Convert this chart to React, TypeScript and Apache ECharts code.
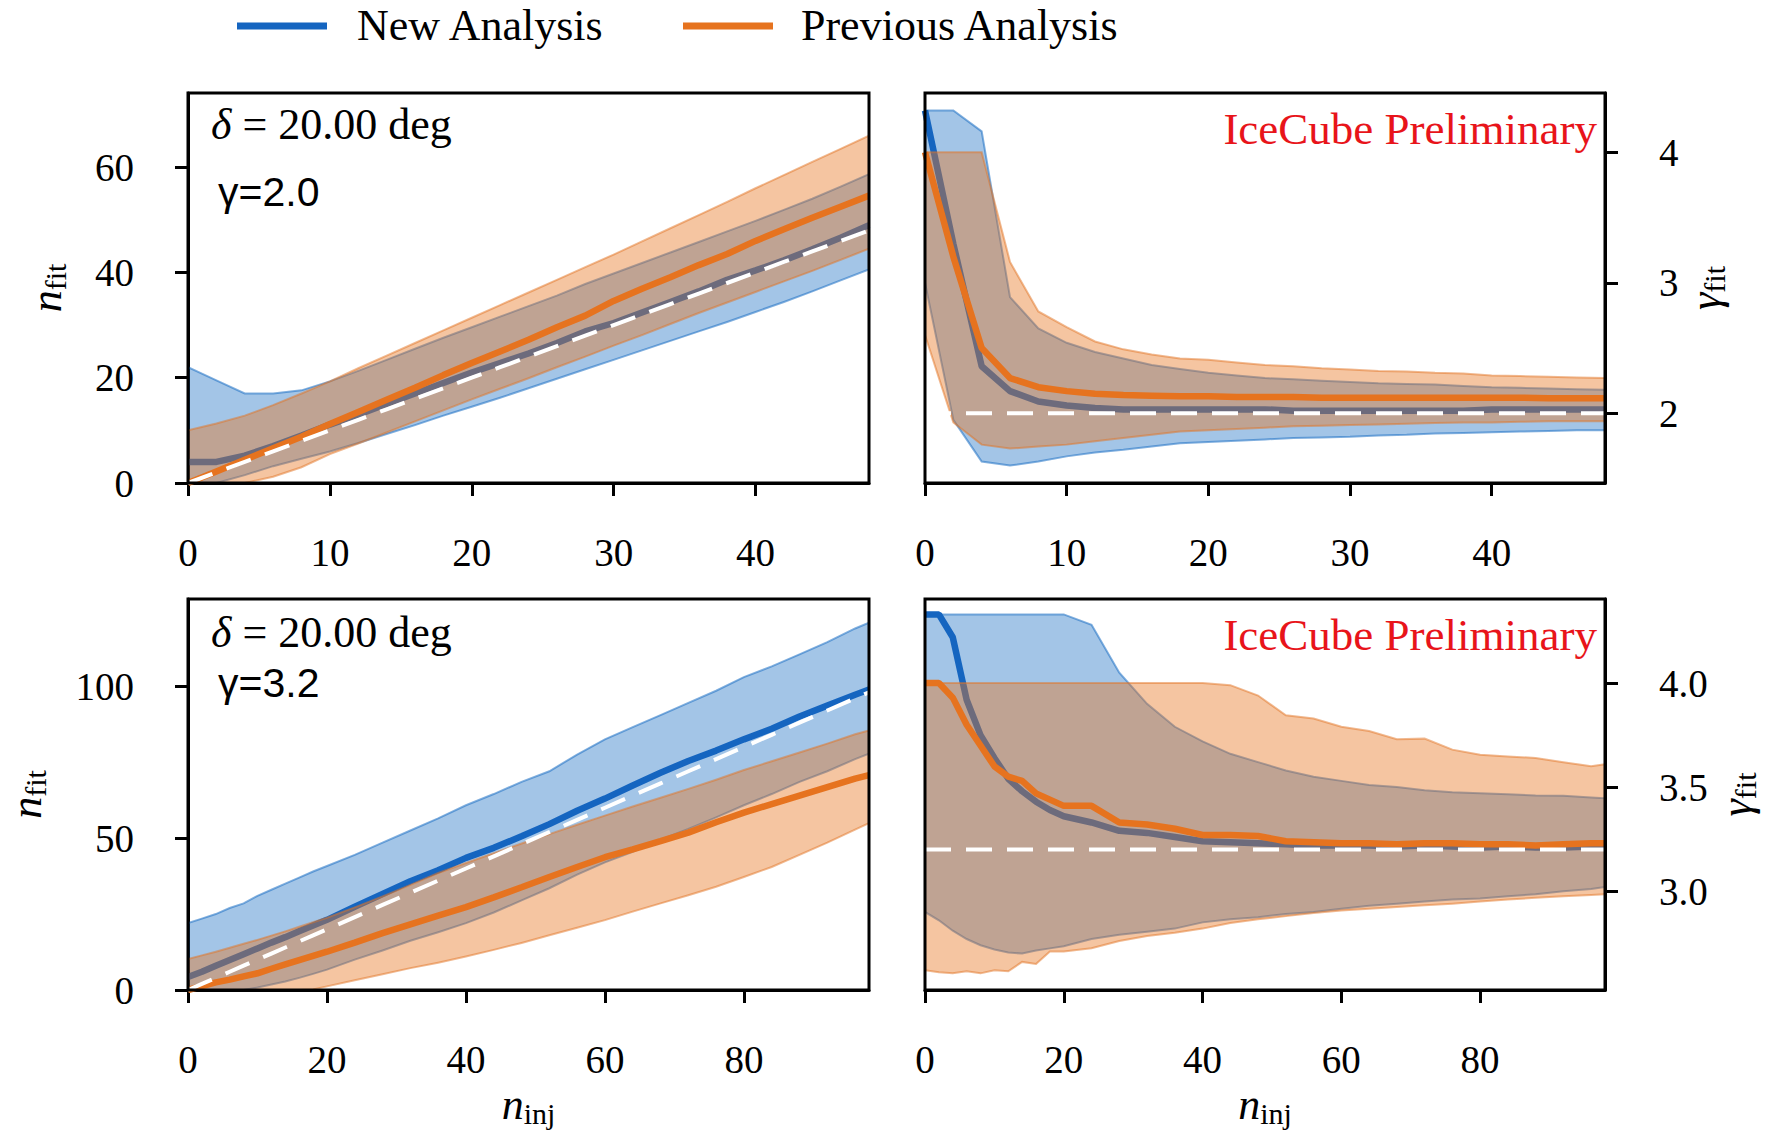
import React, { useEffect, useRef } from 'react';
import * as echarts from 'echarts';

// ---------- data ----------
const xTop = [0, 2, 4, 6, 8, 10, 12, 14, 16, 18, 20, 22, 24, 26, 28, 30, 32, 34, 36, 38, 40, 42, 44, 46, 48];

// top-left: n_fit vs n_inj (gamma = 2.0)
const tlNewMed = [4, 4, 5.2, 7, 9, 11.1, 13, 15, 17, 19, 21, 22.8, 24.6, 26.6, 28.8, 30.4, 32.4, 34.4, 36.4, 38.6, 40.4, 42.3, 44.4, 46.6, 49];
const tlNewLo = [0, 0, 1.5, 3.2, 4.6, 6, 7.6, 9.3, 11, 12.8, 14.5, 16.2, 18, 19.8, 21.6, 23.4, 25.2, 27, 28.8, 30.6, 32.5, 34.4, 36.4, 38.5, 40.6];
const tlNewHi = [22, 19.5, 17, 17, 17.6, 19.3, 21.3, 23.4, 25.5, 27.6, 29.6, 31.6, 33.6, 35.6, 37.8, 39.8, 41.8, 43.8, 45.8, 47.8, 49.8, 51.9, 54, 56.3, 58.7];
const tlPrevMed = [0, 2.2, 4.4, 6.6, 8.8, 11.2, 13.5, 15.8, 18.1, 20.5, 22.8, 25, 27.2, 29.6, 31.8, 34.6, 36.9, 39.1, 41.4, 43.5, 46, 48.2, 50.4, 52.5, 54.6];
const tlPrevLo = [0, 0, 0, 1.2, 3, 5.5, 7.5, 9.6, 11.7, 13.8, 15.9, 17.9, 19.9, 22, 24, 26.1, 28.1, 30.2, 32.3, 34.3, 36.3, 38.3, 40.3, 42.4, 44.5];
const tlPrevHi = [10, 11.3, 12.8, 14.8, 17, 19.3, 21.8, 24.2, 26.6, 29, 31.4, 33.8, 36.2, 38.6, 41, 43.4, 45.9, 48.4, 50.9, 53.4, 56, 58.5, 61, 63.5, 66];

// top-right: gamma_fit vs n_inj (gamma = 2.0)
const trNewMed = [4.32, 3.3, 2.36, 2.17, 2.09, 2.06, 2.04, 2.03, 2.03, 2.03, 2.03, 2.03, 2.03, 2.02, 2.02, 2.02, 2.02, 2.02, 2.02, 2.02, 2.03, 2.03, 2.03, 2.03, 2.03];
const trNewLo = [3.0, 1.95, 1.63, 1.6, 1.63, 1.67, 1.7, 1.72, 1.745, 1.77, 1.78, 1.79, 1.8, 1.81, 1.815, 1.82, 1.83, 1.835, 1.845, 1.85, 1.855, 1.86, 1.865, 1.87, 1.87];
const trNewHi = [4.32, 4.32, 4.16, 2.89, 2.65, 2.54, 2.47, 2.42, 2.37, 2.34, 2.31, 2.29, 2.27, 2.26, 2.25, 2.24, 2.23, 2.225, 2.22, 2.21, 2.2, 2.195, 2.19, 2.185, 2.18];
const trPrevMed = [4.0, 3.2, 2.5, 2.27, 2.2, 2.17, 2.15, 2.14, 2.135, 2.13, 2.13, 2.125, 2.125, 2.125, 2.12, 2.12, 2.12, 2.12, 2.12, 2.12, 2.12, 2.12, 2.115, 2.115, 2.115];
const trPrevLo = [2.6, 1.93, 1.76, 1.73, 1.745, 1.76, 1.785, 1.81, 1.835, 1.86, 1.87, 1.88, 1.89, 1.9, 1.905, 1.91, 1.915, 1.92, 1.925, 1.93, 1.93, 1.935, 1.94, 1.94, 1.94];
const trPrevHi = [4.0, 4.0, 4.0, 3.16, 2.78, 2.66, 2.55, 2.49, 2.45, 2.42, 2.41, 2.39, 2.37, 2.36, 2.345, 2.335, 2.325, 2.32, 2.31, 2.305, 2.29, 2.285, 2.28, 2.275, 2.27];

const xBot = [0, 2, 4, 6, 8, 10, 12, 14, 16, 18, 20, 24, 28, 32, 36, 40, 44, 48, 52, 56, 60, 64, 68, 72, 76, 80, 84, 88, 92, 96, 98];

// bottom-left: n_fit vs n_inj (gamma = 3.2)
const blNewMed = [4.3, 6.0, 8.0, 9.9, 11.8, 13.7, 15.6, 17.4, 19.3, 21.2, 23.1, 27.4, 31.6, 35.8, 39.4, 43.5, 46.8, 50.6, 54.6, 59.0, 63.0, 67.3, 71.5, 75.4, 78.8, 82.5, 86.0, 90.0, 93.6, 97.2, 98.9];
const blNewLo = [0, 0, 0, 0, 0, 0.8, 1.8, 2.8, 4, 5.3, 6.7, 10, 13, 16.2, 19, 22, 25.5, 29.5, 33.5, 38, 42, 45.5, 49.5, 53, 56.8, 60.8, 64.5, 68.5, 72, 76, 77.8];
const blNewHi = [22, 23.5, 25, 27, 28.5, 31, 33, 35, 37, 39, 40.8, 44.5, 48.5, 52.5, 56.5, 60.8, 64.5, 68.5, 72, 77.5, 82.5, 86.5, 90.5, 94.5, 98.5, 103, 106.5, 110.5, 114.5, 119, 120.9];
const blPrevMed = [0, 1.3, 2.5, 3.4, 4.5, 5.5, 7, 8.4, 9.8, 11.2, 12.6, 15.6, 18.7, 21.6, 24.5, 27.3, 30.5, 33.8, 37.2, 40.5, 43.7, 46.3, 49, 51.8, 55.2, 58.4, 61.2, 64, 66.8, 69.6, 70.7];
const blPrevLo = [0, 0, 0, 0, 0, 0, 0, 0, 0, 0.2, 1.2, 3.2, 5.2, 7.2, 9, 11, 13.2, 15.5, 18, 20.5, 23, 25.8, 28.5, 31.2, 34, 37.2, 40.5, 44.5, 48.5, 52.8, 54.9];
const blPrevHi = [10.2, 11.4, 12.6, 13.9, 15.2, 16.5, 17.9, 19.3, 20.8, 22.3, 23.8, 27.2, 30.8, 34.6, 38.5, 41.8, 45, 48.2, 51.3, 54.4, 57.4, 60.4, 63.3, 66.2, 69.2, 72.4, 75.3, 78.2, 81.1, 84.2, 85.4];

// bottom-right: gamma_fit vs n_inj (gamma = 3.2)
const brNewMed = [4.33, 4.33, 4.22, 3.92, 3.75, 3.64, 3.54, 3.48, 3.43, 3.39, 3.36, 3.33, 3.29, 3.28, 3.26, 3.24, 3.235, 3.23, 3.225, 3.22, 3.22, 3.22, 3.215, 3.22, 3.215, 3.21, 3.215, 3.21, 3.21, 3.215, 3.215];
const brNewLo = [2.9, 2.86, 2.81, 2.77, 2.74, 2.72, 2.705, 2.7, 2.715, 2.725, 2.735, 2.77, 2.79, 2.805, 2.82, 2.85, 2.865, 2.875, 2.89, 2.9, 2.915, 2.93, 2.94, 2.95, 2.96, 2.965, 2.976, 2.985, 3.0, 3.01, 3.02];
const brNewHi = [4.33, 4.33, 4.33, 4.33, 4.33, 4.33, 4.33, 4.33, 4.33, 4.33, 4.33, 4.28, 4.05, 3.9, 3.79, 3.72, 3.66, 3.62, 3.58, 3.55, 3.53, 3.51, 3.5, 3.485, 3.475, 3.47, 3.466, 3.46, 3.458, 3.45, 3.446];
const brPrevMed = [4.0, 4.0, 3.93, 3.8, 3.7, 3.6, 3.55, 3.53, 3.47, 3.44, 3.41, 3.41, 3.33, 3.32, 3.3, 3.27, 3.27, 3.265, 3.24, 3.235, 3.23, 3.23, 3.225, 3.23, 3.23, 3.225, 3.225, 3.22, 3.225, 3.23, 3.23];
const brPrevLo = [2.62, 2.61, 2.605, 2.615, 2.605, 2.62, 2.615, 2.66, 2.65, 2.71, 2.71, 2.726, 2.76, 2.785, 2.8, 2.82, 2.847, 2.865, 2.88, 2.895, 2.907, 2.915, 2.924, 2.932, 2.94, 2.95, 2.96, 2.968, 2.976, 2.982, 2.985];
const brPrevHi = [4.0, 4.0, 4.0, 4.0, 4.0, 4.0, 4.0, 4.0, 4.0, 4.0, 4.0, 4.0, 4.0, 4.0, 4.0, 4.0, 3.99, 3.94, 3.845, 3.83, 3.79, 3.77, 3.73, 3.733, 3.68, 3.656, 3.647, 3.64, 3.62, 3.6, 3.61];

const INJ_GAMMA_TOP = 2.0;
const INJ_GAMMA_BOT = 3.2;

// tick labels
const topXTicks = [0, 10, 20, 30, 40];
const botXTicks = [0, 20, 40, 60, 80];
const tlYTicks = [0, 20, 40, 60];
const trYTicks = [2, 3, 4];
const blYTicks = [0, 50, 100];
const brYTicks = [3.0, 3.5, 4.0];

const legendNames = ['New Analysis', 'Previous Analysis'];

// ---------- styles ----------
const SERIF = 'Liberation Serif';
const SANS = 'Liberation Sans';
const NEW_COLOR = '#1565c0';
const PREV_COLOR = '#e6731f';
const NEW_FILL = 'rgba(25,110,195,0.4)';
const PREV_FILL = 'rgba(232,117,30,0.42)';
const NEW_EDGE = 'rgba(25,110,195,0.55)';
const PREV_EDGE = 'rgba(225,115,35,0.5)';

const nameRich = {
  n: { fontFamily: SERIF, fontStyle: 'italic', fontSize: 44, color: '#000' },
  g: { fontFamily: SERIF, fontStyle: 'italic', fontSize: 44, color: '#000' },
  s: { fontFamily: SERIF, fontSize: 30, color: '#000', padding: [18, 0, 0, 0] },
};
const tickRich = { t: { fontFamily: SERIF, fontSize: 39, color: '#000' } };

function bandSeries(gi: number, xs: number[], lo: number[], hi: number[], fill: string, edge: string, z: number) {
  return {
    type: 'custom', xAxisIndex: gi, yAxisIndex: gi, silent: true, clip: true, z,
    data: xs.map((x, i) => [x, lo[i], hi[i]]),
    encode: { x: 0, y: [1, 2] },
    renderItem: (params: any, api: any) => {
      if (params.dataIndex !== 0) return null;
      const low = xs.map((x, i) => api.coord([x, lo[i]]));
      const high = xs.map((x, i) => api.coord([x, hi[i]]));
      const poly = low.concat(high.slice().reverse());
      return {
        type: 'group',
        children: [
          { type: 'polygon', shape: { points: poly }, style: { fill, stroke: 'none' } },
          { type: 'polyline', shape: { points: low }, style: { stroke: edge, lineWidth: 2, fill: 'none' } },
          { type: 'polyline', shape: { points: high }, style: { stroke: edge, lineWidth: 2, fill: 'none' } },
        ],
      };
    },
  };
}

function panelSeries(
  gi: number,
  xs: number[],
  newLo: number[], newMed: number[], newHi: number[],
  prevLo: number[], prevMed: number[], prevHi: number[],
  truth: number[][]
) {
  const pts = (ys: number[]) => xs.map((x, i) => [x, ys[i]]);
  const base: any = {
    type: 'line', xAxisIndex: gi, yAxisIndex: gi, symbol: 'none', showSymbol: false,
    silent: true, animation: false, clip: true,
  };
  return [
    bandSeries(gi, xs, newLo, newHi, NEW_FILL, NEW_EDGE, 2),
    { ...base, z: 3, name: legendNames[0], data: pts(newMed), lineStyle: { color: NEW_COLOR, width: 6.5 } },
    bandSeries(gi, xs, prevLo, prevHi, PREV_FILL, PREV_EDGE, 4),
    { ...base, z: 5, name: legendNames[1], data: pts(prevMed), lineStyle: { color: PREV_COLOR, width: 6.5 } },
    { ...base, z: 6, data: truth, lineStyle: { color: '#ffffff', width: 4, type: [26, 15] } },
  ];
}

const axisLineStyle = { show: true, onZero: false, lineStyle: { color: '#000', width: 3 } };

function mkX(gi: number, max: number, ticks: number[], withName: boolean) {
  return {
    type: 'value', gridIndex: gi, min: 0, max,
    axisLine: axisLineStyle,
    axisTick: { show: true, length: 13, lineStyle: { color: '#000', width: 3 }, customValues: ticks },
    axisLabel: {
      show: true, customValues: ticks, margin: 50, fontFamily: SERIF, fontSize: 39, color: '#000',
      formatter: (v: number) => `{t|${v}}`, rich: tickRich,
    },
    splitLine: { show: false },
    name: withName ? '{n|n}{s|inj}' : '',
    nameLocation: 'middle', nameGap: 90,
    nameTextStyle: { fontFamily: SERIF, rich: nameRich },
  };
}

function mkY(gi: number, min: number, max: number, ticks: number[], pos: string, name: string, nameGap: number, fmt: (v: number) => string) {
  return {
    type: 'value', gridIndex: gi, min, max, position: pos,
    axisLine: axisLineStyle,
    axisTick: { show: true, length: 13, lineStyle: { color: '#000', width: 3 }, customValues: ticks },
    axisLabel: {
      show: true, customValues: ticks, margin: 54, fontFamily: SERIF, fontSize: 39, color: '#000',
      formatter: (v: number) => `{t|${fmt(v)}}`, rich: tickRich,
    },
    splitLine: { show: false },
    name, nameLocation: 'middle', nameRotate: 90, nameGap,
    nameTextStyle: { fontFamily: SERIF, rich: nameRich },
  };
}

function buildOption() {
  const gridBase = { show: true, borderColor: '#000', borderWidth: 3, backgroundColor: 'transparent', z: 10 };
  const grid = [
    { ...gridBase, left: 188, top: 93, width: 681, height: 390 },
    { ...gridBase, left: 925, top: 93, width: 680, height: 390 },
    { ...gridBase, left: 188, top: 599, width: 681, height: 391 },
    { ...gridBase, left: 925, top: 599, width: 680, height: 391 },
  ];
  const xAxis = [
    mkX(0, 48, topXTicks, false),
    mkX(1, 48, topXTicks, false),
    mkX(2, 98, botXTicks, true),
    mkX(3, 98, botXTicks, true),
  ];
  const intFmt = (v: number) => String(Math.round(v));
  const yAxis = [
    mkY(0, 0, 74.1, tlYTicks, 'left', '{n|n}{s|fit}', 118, intFmt),
    mkY(1, 1.466, 4.454, trYTicks, 'right', '{g|γ}{s|fit}', 76, intFmt),
    mkY(2, 0, 128.7, blYTicks, 'left', '{n|n}{s|fit}', 138, intFmt),
    mkY(3, 2.525, 4.404, brYTicks, 'right', '{g|γ}{s|fit}', 107, (v: number) => v.toFixed(1)),
  ];
  const series = [
    ...panelSeries(0, xTop, tlNewLo, tlNewMed, tlNewHi, tlPrevLo, tlPrevMed, tlPrevHi, xTop.map((x) => [x, x])),
    ...panelSeries(1, xTop, trNewLo, trNewMed, trNewHi, trPrevLo, trPrevMed, trPrevHi, xTop.map((x) => [x, INJ_GAMMA_TOP])),
    ...panelSeries(2, xBot, blNewLo, blNewMed, blNewHi, blPrevLo, blPrevMed, blPrevHi, xBot.map((x) => [x, x])),
    ...panelSeries(3, xBot, brNewLo, brNewMed, brNewHi, brPrevLo, brPrevMed, brPrevHi, xBot.map((x) => [x, INJ_GAMMA_BOT])),
  ];

  const serifText = (x: number, y: number, text: string, fill = '#000', align = 'left', size = 44) => ({
    type: 'text', x, y, z: 20,
    style: {
      text, fill, fontFamily: SERIF, fontSize: size, align, verticalAlign: 'middle',
      textAlign: align, textVerticalAlign: 'middle',
      rich: { i: { fontFamily: SERIF, fontStyle: 'italic', fontSize: size, fill } },
    },
  });
  const sansText = (x: number, y: number, text: string) => ({
    type: 'text', x, y, z: 20,
    style: {
      text, fill: '#000', fontFamily: SANS, fontSize: 41, align: 'left', verticalAlign: 'middle',
      textAlign: 'left', textVerticalAlign: 'middle',
    },
  });

  const graphic = [
    { type: 'line', z: 20, shape: { x1: 237, y1: 26, x2: 327, y2: 26 }, style: { stroke: NEW_COLOR, lineWidth: 7 } },
    serifText(357, 25, legendNames[0]),
    { type: 'line', z: 20, shape: { x1: 683, y1: 26, x2: 773, y2: 26 }, style: { stroke: PREV_COLOR, lineWidth: 7 } },
    serifText(801, 25, legendNames[1]),
    serifText(211, 124, '{i|δ} = 20.00 deg', '#000', 'left', 44),
    sansText(218, 192, 'γ=2.0'),
    serifText(211, 632, '{i|δ} = 20.00 deg', '#000', 'left', 44),
    sansText(218, 683, 'γ=3.2'),
    serifText(1597, 129, 'IceCube Preliminary', '#e8141a', 'right', 45),
    serifText(1597, 635, 'IceCube Preliminary', '#e8141a', 'right', 45),
  ];

  return {
    animation: false,
    backgroundColor: '#ffffff',
    textStyle: { fontFamily: SERIF },
    grid, xAxis, yAxis, series, graphic,
  };
}

export default function App() {
  const ref = useRef<HTMLDivElement>(null);
  useEffect(() => {
    document.body.style.margin = '0';
    const chart = echarts.init(ref.current as HTMLDivElement, null, { renderer: 'svg' });
    chart.setOption(buildOption() as any);
    return () => chart.dispose();
  }, []);
  return <div ref={ref} style={{ width: 1769, height: 1139, background: '#fff' }} />;
}
